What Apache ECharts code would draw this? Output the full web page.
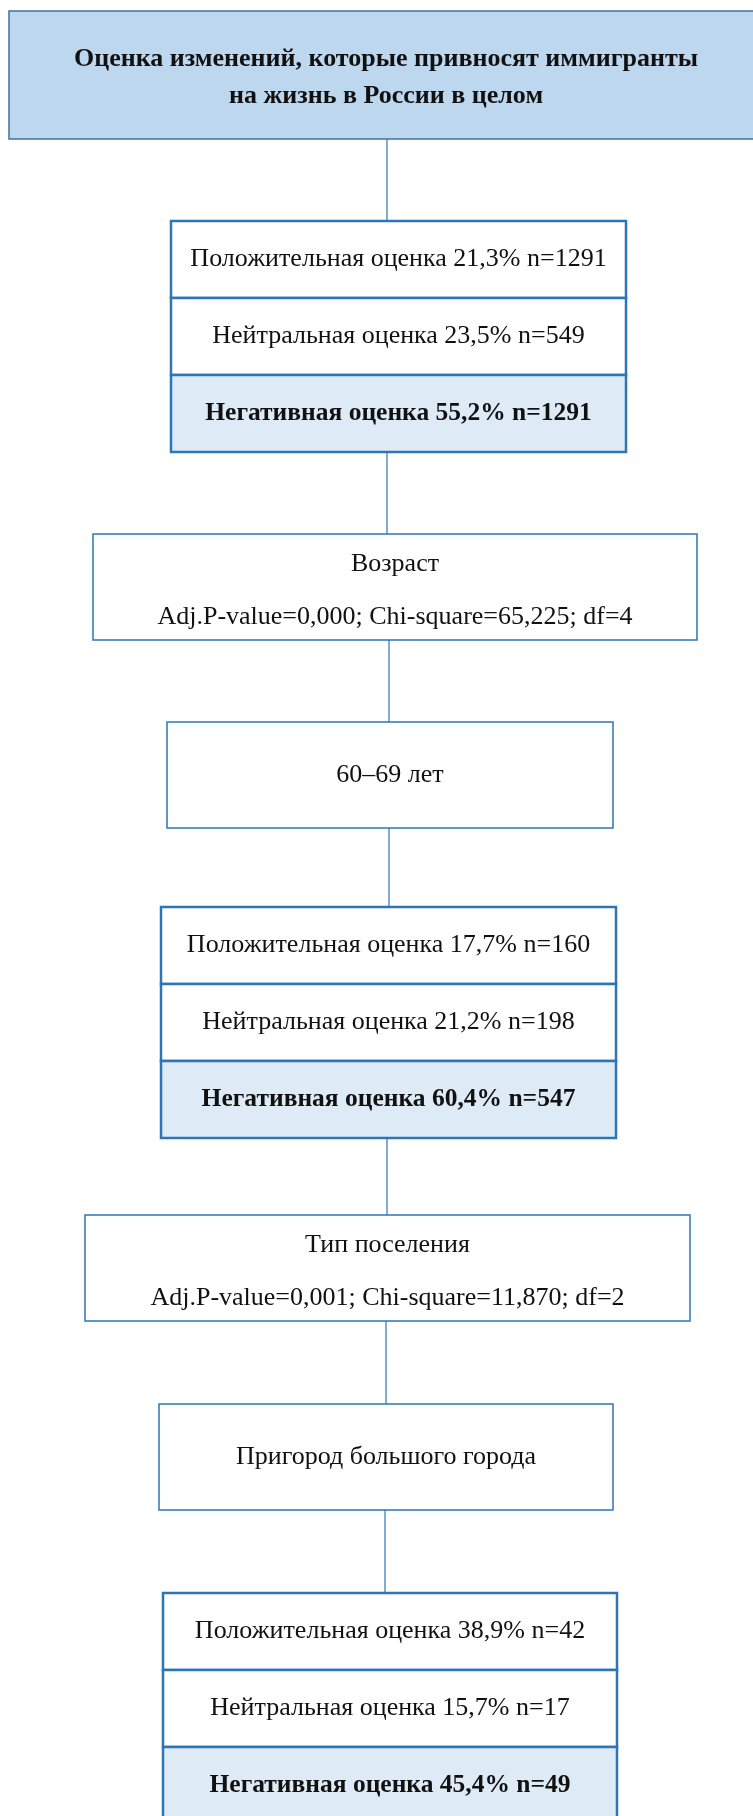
<!DOCTYPE html>
<html>
<head>
<meta charset="utf-8">
<script src="https://cdn.jsdelivr.net/npm/echarts@6/dist/echarts.min.js"></script>
<style>
  html, body { margin: 0; padding: 0; background: #fff; }
  #main { width: 753px; height: 1816px; }
</style>
</head>
<body>
<div id="main"></div>
<script>
// данные дерева
var rootTitle = ['Оценка изменений, которые привносят иммигранты', 'на жизнь в России в целом'];
var assessLabels = ['Положительная оценка', 'Нейтральная оценка', 'Негативная оценка'];
var rootPct = [21.3, 23.5, 55.2];
var rootN = [1291, 549, 1291];
var agePct = [17.7, 21.2, 60.4];
var ageN = [160, 198, 547];
var suburbPct = [38.9, 15.7, 45.4];
var suburbN = [42, 17, 49];
var splitVars = ['Возраст', 'Тип поселения'];
var splitP = ['0,000', '0,001'];
var splitChi = ['65,225', '11,870'];
var splitDf = [4, 2];
var branchLabels = ['60–69 лет', 'Пригород большого города'];

// раскладка (координаты осей, y вниз)
var layout = {
  title: [9, 11, 770, 139],
  dist: [[171, 221, 626, 452], [161, 907, 616, 1138], [163, 1593, 617, 1824]],
  split: [[93, 534, 697, 640], [85, 1215, 690, 1321]],
  branch: [[167, 722, 613, 828], [159, 1404, 613, 1510]],
  links: [[387, 139, 221], [387, 452, 534], [389, 640, 722], [389, 828, 907],
          [387, 1138, 1215], [386, 1321, 1404], [385, 1510, 1593]]
};

function fmt(v) { return v.toFixed(1).replace('.', ','); }

var FONT = '"Liberation Serif", "DejaVu Serif", serif';
var cells = [];

cells.push({ box: layout.title, lines: rootTitle, ty: [0.38, 0.67], bold: true, size: 26,
  fill: '#BDD7EE', stroke: '#41719C', lw: 1.5 });

[[rootPct, rootN], [agePct, ageN], [suburbPct, suburbN]].forEach(function (d, k) {
  var b = layout.dist[k];
  var h = (b[3] - b[1]) / 3;
  for (var i = 0; i < 3; i++) {
    cells.push({
      box: [b[0], b[1] + h * i, b[2], b[1] + h * (i + 1)],
      lines: [assessLabels[i] + ' ' + fmt(d[0][i]) + '% n=' + d[1][i]],
      ty: [0.5], bold: i === 2, size: i === 2 ? 25.5 : 26,
      fill: i === 2 ? '#DEEBF7' : '#ffffff', stroke: '#2E75B6', lw: 2.5
    });
  }
});

splitVars.forEach(function (v, k) {
  cells.push({ box: layout.split[k],
    lines: [v, 'Adj.P-value=' + splitP[k] + '; Chi-square=' + splitChi[k] + '; df=' + splitDf[k]],
    ty: [0.28, 0.78], bold: false, size: 26, fill: '#ffffff', stroke: '#2E75B6', lw: 1.5 });
  cells.push({ box: layout.branch[k], lines: [branchLabels[k]], ty: [0.5], bold: false, size: 26,
    fill: '#ffffff', stroke: '#2E75B6', lw: 1.5 });
});

var myChart = echarts.init(document.getElementById('main'));

var option = {
  animation: false,
  backgroundColor: '#ffffff',
  grid: { left: 0, right: 0, top: 0, bottom: 0 },
  xAxis: { type: 'value', min: 0, max: 753, show: false },
  yAxis: { type: 'value', min: 0, max: 1816, inverse: true, show: false },
  series: [
    {
      type: 'custom',
      clip: false,
      data: layout.links,
      renderItem: function (params, api) {
        var p0 = api.coord([api.value(0), api.value(1)]);
        var p1 = api.coord([api.value(0), api.value(2)]);
        return {
          type: 'line',
          shape: { x1: p0[0], y1: p0[1], x2: p1[0], y2: p1[1] },
          style: { stroke: '#2E75B6', lineWidth: 1.2 }
        };
      }
    },
    {
      type: 'custom',
      clip: false,
      data: cells.map(function (c) { return c.box; }),
      renderItem: function (params, api) {
        var c = cells[params.dataIndex];
        var a = api.coord([api.value(0), api.value(1)]);
        var b = api.coord([api.value(2), api.value(3)]);
        var children = [{
          type: 'rect',
          shape: { x: a[0], y: a[1], width: b[0] - a[0], height: b[1] - a[1] },
          style: { fill: c.fill, stroke: c.stroke, lineWidth: c.lw }
        }];
        c.lines.forEach(function (t, i) {
          children.push({
            type: 'text',
            style: {
              text: t,
              x: (a[0] + Math.min(b[0], 763)) / 2,
              y: a[1] + (b[1] - a[1]) * c.ty[i],
              align: 'center',
              verticalAlign: 'middle',
              fontFamily: FONT,
              fontSize: c.size,
              fontWeight: c.bold ? 'bold' : 'normal',
              fill: '#111111'
            }
          });
        });
        return { type: 'group', children: children };
      }
    }
  ]
};

myChart.setOption(option);
</script>
</body>
</html>
